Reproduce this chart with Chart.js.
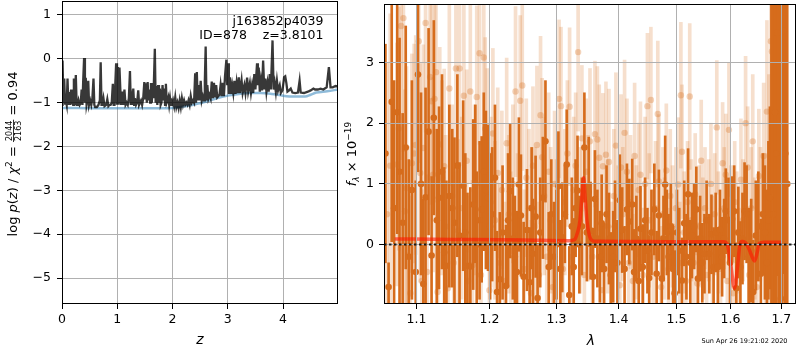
<!DOCTYPE html>
<html><head><meta charset="utf-8">
<script src="https://cdn.jsdelivr.net/npm/chart.js@4.4.0/dist/chart.umd.min.js"></script>
<style>
html,body{margin:0;padding:0;background:#fff;}
#wrap{position:relative;width:800px;height:350px;overflow:hidden;background:#fff;}
#c1box{position:absolute;left:0;top:0;width:340px;height:350px;}
#c2box{position:absolute;left:340px;top:0;width:460px;height:350px;}
</style></head><body>
<div id="wrap"><div id="c1box"><canvas id="c1"></canvas></div><div id="c2box"><canvas id="c2"></canvas></div></div>
<script>
// ---------- left panel: log p(z) ----------
const zTicks = [0,1,2,3,4];
const pTicks = [-5,-4,-3,-2,-1,0,1];
const zBlack = [
0.00,0.01,0.025,0.04,0.055,0.07,0.085,0.10,0.115,0.13,
0.145,0.165,0.18,0.20,0.215,0.23,0.25,0.265,0.285,0.30,
0.32,0.34,0.355,0.37,0.385,0.40,0.415,0.43,0.445,0.46,
0.475,0.49,0.51,0.53,0.55,0.57,0.585,0.60,0.63,0.66,
0.685,0.70,0.715,0.73,0.75,0.77,0.80,0.82,0.84,0.86,
0.88,0.90,0.92,0.935,0.95,0.965,0.98,0.995,1.01,1.025,
1.04,1.055,1.07,1.09,1.11,1.13,1.15,1.17,1.19,1.21,
1.23,1.245,1.26,1.275,1.29,1.305,1.32,1.34,1.36,1.38,
1.395,1.41,1.43,1.45,1.47,1.49,1.505,1.52,1.535,1.55,
1.565,1.58,1.595,1.61,1.625,1.64,1.655,1.68,1.695,1.71,
1.725,1.74,1.755,1.77,1.785,1.80,1.82,1.835,1.85,1.865,
1.88,1.895,1.91,1.925,1.94,1.955,1.97,1.99,2.01,2.03,
2.05,2.07,2.09,2.11,2.13,2.15,2.17,2.19,2.21,2.23,
2.25,2.27,2.29,2.31,2.33,2.35,2.37,2.39,2.41,2.425,
2.44,2.455,2.47,2.49,2.51,2.53,2.55,2.57,2.585,2.60,
2.615,2.63,2.65,2.67,2.69,2.71,2.73,2.75,2.77,2.79,
2.81,2.83,2.85,2.87,2.89,2.91,2.93,2.95,2.975,2.99,
3.005,3.02,3.04,3.06,3.08,3.10,3.12,3.14,3.16,3.18,
3.20,3.22,3.25,3.27,3.30,3.32,3.35,3.37,3.40,3.42,
3.44,3.46,3.48,3.50,3.53,3.545,3.56,3.58,3.60,3.62,
3.64,3.66,3.68,3.70,3.72,3.74,3.76,3.78,3.81,3.83,
3.85,3.87,3.89,3.91,3.94,3.96,3.99,4.02,4.04,4.06,
4.08,4.11,4.14,4.17,4.22,4.27,4.30,4.32,4.38,4.45,
4.50,4.55,4.58,4.63,4.68,4.73,4.79,4.83,4.86,4.90,
4.95,4.99];
const pBlack = [
-1.05,-0.04,-1.00,-0.45,-1.02,-0.95,-1.05,-0.45,-1.05,-0.76,
-1.05,-0.70,-1.00,-1.05,-0.45,-1.05,-0.37,-1.05,-1.05,-0.95,
-1.05,-1.00,-0.70,-1.05,-0.45,0.02,-1.00,-0.43,-1.05,-0.95,
-0.50,-1.05,-0.95,-1.05,-0.90,-0.45,-1.05,-1.10,-1.10,-1.05,
-0.95,-0.08,-1.05,-1.05,-0.90,-1.08,-1.05,-0.92,-1.08,-1.05,
-1.05,-1.00,-0.57,-1.05,-1.05,-0.55,-0.10,-1.05,-0.19,-1.05,
-0.20,-0.68,-1.05,-0.75,-1.05,-0.70,-1.05,-1.00,-1.05,-0.90,
-0.28,-1.05,-0.90,-1.05,-0.68,-1.05,-0.90,-1.05,-1.00,-0.72,
-1.05,-1.05,-0.95,-1.05,-0.90,-0.53,-0.90,-0.56,-1.00,-0.53,
-0.95,-0.70,-1.00,-0.55,-1.00,-0.55,-0.90,0.23,-1.00,-0.62,
-1.05,-0.60,-1.00,-0.68,-1.05,-1.00,-0.60,-0.95,-0.68,-1.05,
-0.57,-1.00,-0.95,-0.88,-1.05,-0.90,-1.05,-1.05,-0.95,-1.08,
-0.88,-1.10,-1.00,-1.12,-0.95,-1.10,-0.90,-1.05,-0.95,-1.05,
-1.00,-1.05,-0.95,-1.05,-0.85,-1.00,-0.95,-1.00,-0.33,-1.00,
-0.30,-0.95,-0.60,-0.95,-0.50,-0.95,-0.85,-0.95,-0.50,0.28,
-0.95,-0.60,-0.90,-0.82,-0.90,-0.52,-0.90,-0.55,-0.88,-0.60,
-0.88,-0.85,-0.82,-0.60,-0.85,-0.55,-0.85,-0.40,-0.02,-0.60,
-0.10,-0.80,-0.42,-0.80,-0.60,-0.78,-0.50,-0.80,-0.55,-0.78,
-0.42,-0.78,-0.49,-0.78,-0.60,-0.78,-0.43,-0.75,-0.55,-0.78,
-0.60,-0.78,-0.35,-0.70,-0.10,-0.60,-0.20,-0.75,-0.50,-0.72,
-0.04,-0.70,-0.45,-0.75,-0.55,-0.75,-0.35,-0.70,0.42,-0.70,
-0.55,-0.75,-0.50,-0.72,-0.60,-0.78,-0.72,-0.42,-0.40,-0.55,
-0.75,-0.72,-0.68,-0.77,-0.78,-0.77,-0.50,-0.77,-0.78,-0.75,
-0.72,-0.68,-0.70,-0.70,-0.68,-0.70,-0.65,-0.19,-0.65,-0.65,
-0.62,-0.63];
const zBlue = [0,0.3,0.6,1.0,1.5,2.0,2.2,2.4,2.6,2.8,3.0,3.2,3.4,3.6,3.8,4.0,4.2,4.4,4.5,4.6,4.8,4.99];
const pBlue = [-1.12,-1.12,-1.13,-1.13,-1.13,-1.12,-1.09,-1.04,-0.98,-0.90,-0.84,-0.80,-0.78,-0.78,-0.80,-0.84,-0.86,-0.86,-0.82,-0.77,-0.74,-0.70];

// ---------- right panel: spectrum ----------
const lamTicks = [1.1,1.2,1.3,1.4,1.5,1.6,1.7];
const fluxTicks = [0,1,2,3];
const dW = [
1.060,1.064,1.068,1.071,1.075,1.078,1.082,1.086,1.090,1.094,
1.099,1.102,1.106,1.109,1.112,1.116,1.120,1.123,1.127,1.130,
1.134,1.137,1.140,1.144,1.148,1.151,1.155,1.158,1.163,1.166,
1.169,1.173,1.177,1.180,1.182,1.186,1.189,1.192,1.195,1.198,
1.201,1.204,1.208,1.211,1.215,1.219,1.224,1.227,1.230,1.234,
1.237,1.240,1.243,1.246,1.250,1.255,1.259,1.262,1.264,1.268,
1.271,1.275,1.279,1.283,1.288,1.292,1.296,1.300,1.303,1.306,
1.309,1.313,1.316,1.320,1.324,1.327,1.330,1.333,1.336,1.340,
1.344,1.348,1.351,1.354,1.358,1.361,1.365,1.369,1.372,1.376,
1.380,1.384,1.387,1.391,1.394,1.398,1.402,1.406,1.410,1.414,
1.418,1.423,1.426,1.430,1.434,1.437,1.441,1.445,1.449,1.452,
1.456,1.461,1.465,1.469,1.474,1.477,1.480,1.483,1.486,1.490,
1.494,1.497,1.501,1.505,1.510,1.514,1.518,1.521,1.525,1.528,
1.532,1.536,1.539,1.543,1.547,1.551,1.555,1.560,1.564,1.568,
1.572,1.576,1.580,1.584,1.588,1.591,1.596,1.599,1.603,1.607,
1.611,1.615,1.619,1.623,1.627,1.631,1.635,1.640,1.644,1.649,
1.654,1.659,1.663,1.667,1.671,1.674,1.677,1.680,1.684,1.687,
1.690,1.692,1.695,1.699,1.702,1.705,1.708,1.712];
const dF = [
1.50,-0.70,2.35,0.60,2.18,1.20,0.36,1.60,-0.20,0.90,
-0.45,2.80,1.00,-0.65,0.78,1.86,-0.18,2.09,0.40,0.77,
1.20,-0.13,-0.35,0.80,0.60,0.36,1.30,0.15,0.97,0.20,
-0.35,-0.36,0.66,1.00,0.00,0.40,0.58,1.20,0.90,0.77,
0.30,0.50,1.10,-0.78,-0.57,0.20,-0.68,0.40,0.88,0.10,
-0.20,-0.45,0.99,0.48,-0.53,0.24,-0.62,0.60,-0.15,0.46,
-0.88,0.20,0.77,1.70,-0.37,0.50,-0.20,0.00,0.96,-0.40,
0.12,0.50,1.32,-0.83,0.30,-0.37,0.60,0.89,0.00,0.30,
1.60,0.20,0.87,0.23,-0.53,0.75,0.10,-0.20,0.35,-0.40,
0.50,0.10,-0.50,-0.20,0.30,-0.30,0.73,0.24,-0.40,0.58,
0.38,0.66,-0.45,0.10,-0.60,0.26,-0.37,0.40,-0.10,-0.55,
0.20,0.58,-0.48,0.48,-0.56,0.10,0.99,0.20,-0.20,0.30,
-0.40,-0.80,0.20,-0.10,-0.59,0.35,-0.20,0.83,-0.30,0.15,
0.30,0.58,-0.56,0.10,-0.30,-0.15,0.40,-0.15,0.17,-0.37,
0.20,-0.37,0.25,-0.20,0.10,0.55,0.40,-0.30,0.42,0.55,
-0.72,0.20,-0.37,0.10,0.55,0.50,-0.20,-0.10,-0.78,0.15,
0.30,-0.48,0.50,0.20,-0.30,0.40,0.77,1.00,0.50,2.18,
1.50,3.49,1.00,-0.89,2.00,3.52,1.50,1.00];
const dE = [
1.80,0.40,2.30,2.10,2.00,2.20,1.80,2.00,1.60,1.80,
1.50,1.60,1.50,1.40,1.80,1.70,1.30,1.60,1.50,1.50,
1.60,1.40,1.40,1.50,1.30,1.40,1.50,1.20,1.40,1.30,
1.20,1.30,1.40,1.30,1.20,1.30,1.20,1.30,1.30,1.20,
1.20,1.10,1.20,1.00,1.10,1.10,1.00,1.10,1.10,1.00,
1.00,1.00,1.10,1.00,0.90,1.00,0.90,1.00,0.90,1.00,
0.90,0.90,1.00,1.00,0.90,0.90,0.90,0.90,0.90,0.80,
0.90,0.80,0.90,0.80,0.80,0.80,0.80,0.90,0.80,0.80,
0.90,0.80,0.90,0.80,0.80,0.80,0.80,0.75,0.80,0.75,
0.80,0.75,0.70,0.75,0.75,0.70,0.75,0.70,0.70,0.75,
0.70,0.75,0.70,0.70,0.70,0.70,0.70,0.70,0.70,0.70,
0.70,0.75,0.70,0.75,0.70,0.70,0.80,0.70,0.70,0.70,
0.70,0.70,0.70,0.70,0.70,0.70,0.70,0.75,0.70,0.70,
0.70,0.70,0.70,0.70,0.65,0.65,0.65,0.65,0.65,0.65,
0.65,0.65,0.65,0.65,0.65,0.70,0.70,0.70,0.70,0.75,
0.75,0.75,0.75,0.75,0.80,0.80,0.80,0.85,0.85,0.90,
0.90,0.90,1.00,1.10,1.20,1.30,1.50,3.00,4.00,4.00,
4.00,4.00,4.00,5.00,4.00,4.00,4.00,4.00];
const lW = [
1.062,1.066,1.0747,1.077,1.080,1.083,1.085,1.087,1.089,1.092,
1.094,1.097,1.099,1.103,1.105,1.107,1.109,1.112,1.114,1.118,
1.120,1.122,1.124,1.126,1.128,1.131,1.134,1.137,1.139,1.142,
1.144,1.148,1.150,1.153,1.156,1.158,1.161,1.164,1.168,1.170,
1.173,1.176,1.179,1.182,1.186,1.188,1.192,1.194,1.197,1.200,
1.202,1.205,1.208,1.212,1.215,1.218,1.222,1.225,1.228,1.231,
1.234,1.238,1.241,1.245,1.248,1.251,1.254,1.258,1.261,1.264,
1.267,1.270,1.273,1.2755,1.278,1.281,1.285,1.288,1.291,1.294,
1.297,1.300,1.304,1.307,1.310,1.313,1.317,1.3205,1.324,1.327,
1.330,1.334,1.337,1.340,1.344,1.347,1.350,1.353,1.357,1.361,
1.365,1.368,1.372,1.374,1.379,1.382,1.384,1.388,1.392,1.3955,
1.399,1.402,1.404,1.407,1.410,1.414,1.417,1.420,1.424,1.427,
1.430,1.434,1.437,1.441,1.445,1.449,1.452,1.455,1.459,1.463,
1.467,1.469,1.473,1.476,1.479,1.482,1.486,1.489,1.493,1.496,
1.499,1.503,1.506,1.508,1.510,1.514,1.517,1.520,1.524,1.527,
1.531,1.534,1.538,1.541,1.545,1.548,1.552,1.555,1.559,1.563,
1.566,1.570,1.574,1.577,1.581,1.585,1.588,1.591,1.594,1.597,
1.601,1.605,1.608,1.612,1.616,1.620,1.624,1.629,1.633,1.636,
1.640,1.643,1.647,1.651,1.655,1.658,1.6645,1.668,1.671,1.675,
1.679,1.681,1.685,1.690,1.694,1.698,1.702,1.706];
const lF = [
0.50,1.30,1.32,1.91,3.60,3.73,0.55,0.93,-0.18,-0.80,
1.34,1.50,1.64,3.35,1.18,-0.60,1.59,3.65,-0.45,2.76,
2.36,1.15,2.40,2.84,-0.78,1.65,1.10,1.29,0.30,-0.72,
2.57,0.80,-0.30,2.90,0.23,2.90,0.60,2.45,1.38,-0.60,
2.52,-0.34,0.90,2.43,3.15,-0.50,3.08,1.91,1.50,-0.75,
0.70,1.83,0.40,1.18,-0.30,0.90,-0.60,1.67,0.50,-0.10,
1.00,2.52,0.20,2.37,2.62,-0.40,1.10,0.60,-0.80,1.30,
0.30,1.64,-0.50,2.13,1.44,0.80,-0.20,1.20,0.40,-0.70,
1.00,0.20,2.40,2.28,-0.40,0.70,1.50,2.27,-0.20,0.90,
1.30,3.17,0.40,1.75,-0.50,1.20,0.60,1.70,-0.20,1.82,
1.73,1.43,-0.75,1.29,1.48,0.30,1.36,-0.40,0.80,1.63,
0.20,-0.67,1.27,0.50,1.84,1.20,-0.30,0.70,-0.60,1.46,
0.20,0.90,1.15,-0.50,1.00,2.28,0.40,2.38,-0.20,0.60,
2.15,1.04,-0.70,0.50,0.10,1.22,-0.40,0.80,0.30,-0.80,
0.60,0.99,-0.30,2.46,1.53,0.20,-0.60,0.70,2.44,0.40,
-0.30,0.83,-0.64,0.30,1.38,0.10,0.60,-0.50,0.40,1.00,
-0.20,0.50,1.93,0.20,-0.40,1.34,0.60,1.15,-0.60,1.89,
0.30,-0.80,0.70,0.20,-0.40,1.07,0.40,2.00,1.27,-0.50,
0.60,1.70,0.10,-0.70,1.13,0.50,1.46,0.20,2.19,0.80,
3.35,3.18,1.00,3.79,0.50,2.00,1.00,1.80];
const lE = [
2.50,2.50,2.00,2.00,2.20,2.20,2.00,2.00,1.80,1.60,
1.80,1.80,1.80,2.00,1.80,1.50,1.70,1.80,1.60,1.70,
1.70,1.60,1.70,1.70,1.50,1.60,1.60,1.60,1.50,1.50,
1.60,1.50,1.50,1.60,1.50,1.60,1.50,1.50,1.50,1.40,
1.50,1.40,1.40,1.50,1.50,1.40,1.50,1.50,1.40,1.30,
1.40,1.40,1.30,1.40,1.30,1.30,1.30,1.40,1.30,1.30,
1.30,1.40,1.30,1.40,1.40,1.30,1.30,1.30,1.20,1.30,
1.30,1.30,1.20,1.30,1.30,1.30,1.20,1.30,1.20,1.20,
1.20,1.20,1.30,1.30,1.20,1.20,1.20,1.30,1.20,1.20,
1.20,1.30,1.20,1.20,1.20,1.20,1.20,1.20,1.20,1.20,
1.20,1.20,1.10,1.20,1.20,1.10,1.20,1.10,1.10,1.20,
1.10,1.10,1.20,1.10,1.20,1.20,1.10,1.10,1.10,1.20,
1.10,1.10,1.20,1.10,1.10,1.20,1.10,1.20,1.10,1.10,
1.20,1.10,1.00,1.10,1.00,1.10,1.00,1.10,1.00,1.00,
1.00,1.10,1.00,1.20,1.10,1.00,1.00,1.00,1.20,1.00,
1.00,1.00,1.00,1.00,1.00,1.00,1.00,1.00,1.00,1.00,
1.00,1.00,1.10,1.00,1.00,1.00,1.00,1.00,1.00,1.10,
1.00,1.00,1.00,1.00,1.00,1.00,1.00,1.10,1.00,1.00,
1.00,1.10,1.00,1.00,1.10,1.10,1.20,1.30,1.50,2.00,
2.50,2.50,3.00,3.00,3.50,3.50,3.50,3.50];
const mW = [1.072,1.150,1.250,1.320,1.328,1.333,1.337,1.340,1.3427,1.345,1.348,1.352,1.356,1.362,1.370,1.450,1.550,1.587,1.594,1.600,1.6076,1.613,1.618,1.622,1.628,1.636,1.6465,1.652,1.656,1.665,1.700];
const mF = [0.093,0.085,0.075,0.065,0.08,0.20,0.40,0.80,1.10,0.80,0.40,0.15,0.07,0.055,0.055,0.05,0.045,0.045,0.00,-0.30,-0.72,-0.40,0.00,0.05,0.04,-0.08,-0.27,-0.12,0.02,0.04,0.04];
const zeroW = [1.0582,1.730];
const zeroF = [0,0];

// ---------- helpers ----------
const FAM = '"DejaVu Sans", sans-serif';
Chart.defaults.font.family = FAM;
Chart.defaults.color = '#000';
const DARK = 'rgb(214,108,28)';
const LIGHTBAR = 'rgba(214,108,28,0.22)';
const LIGHTPT = 'rgba(214,108,28,0.30)';
function pts(xs, ys){ return xs.map((x,i)=>({x:x, y:ys[i]})); }
function rng(ws, fs, es){ return ws.map((w,i)=>({x:w, y:[fs[i]-es[i], fs[i]+es[i]]})); }
function fmtInt(v){ return v < 0 ? '\u2212' + Math.abs(v) : String(v); }
function setTicks(arr){ return s => { s.ticks = arr.map(v => ({value:v})); }; }
const gridCfg = (z) => ({color:'#b0b0b0', lineWidth:1, tickColor:'#000', tickLength:5, z:z});

function drawRich(ctx, parts, cx, cy, rot){
  ctx.save(); ctx.translate(cx, cy); ctx.rotate(rot);
  let total = 0;
  parts.forEach(p => { ctx.font = p.font;
    p.w = p.frac ? Math.max(ctx.measureText(p.num).width, ctx.measureText(p.den).width) + 2 : ctx.measureText(p.t).width;
    total += p.w; });
  let x = -total/2;
  ctx.fillStyle = '#000'; ctx.textBaseline = 'alphabetic';
  parts.forEach(p => { ctx.font = p.font;
    if (p.frac){
      ctx.textAlign = 'center';
      ctx.fillText(p.num, x + p.w/2, p.numY);
      ctx.fillText(p.den, x + p.w/2, p.denY);
      ctx.fillRect(x, p.lineY, p.w, 0.8);
    } else { ctx.textAlign = 'left'; ctx.fillText(p.t, x, p.dy || 0); }
    x += p.w; });
  ctx.restore();
}
function frame(chart){
  const {ctx, chartArea:a} = chart;
  ctx.save(); ctx.strokeStyle = '#000'; ctx.lineWidth = 1;
  ctx.strokeRect(a.left + 0.5, a.top + 0.5, a.right - a.left - 1, a.bottom - a.top - 1);
  ctx.restore();
}
const N = '13px ' + FAM, I = 'italic 13px ' + FAM;

const leftPlugin = { id:'leftDeco', afterDraw(chart){
  frame(chart);
  const ctx = chart.ctx;
  ctx.save(); ctx.fillStyle = '#000'; ctx.textAlign = 'right'; ctx.textBaseline = 'alphabetic';
  ctx.font = '12.5px ' + FAM;
  ctx.fillText('j163852p4039', 323.5, 25);
  ctx.fillText('ID=878    z=3.8101', 323.5, 38.5);
  ctx.textAlign = 'center'; ctx.font = 'italic 14px ' + FAM;
  ctx.fillText('z', 200, 344);
  ctx.restore();
  drawRich(ctx, [
    {t:'log ', font:N}, {t:'p', font:I}, {t:'(', font:N}, {t:'z', font:I}, {t:') / ', font:N},
    {t:'\u03c7', font:I}, {t:'2', font:'9px ' + FAM, dy:-5.5}, {t:' = ', font:N},
    {frac:true, num:'2044', den:'2163', font:'8px ' + FAM, numY:-4.8, denY:3.6, lineY:-3.9},
    {t:' = 0.94', font:N}
  ], 17, 154, -Math.PI/2);
}};
// zero reference line (dotted) drawn above the grid, positioned through the chart's scales
const rightPlugin = { id:'rightDeco', afterDraw(chart){
  const ctx = chart.ctx, xs = chart.scales.x, ys = chart.scales.y, a = chart.chartArea;
  ctx.save();
  ctx.beginPath(); ctx.rect(a.left, a.top, a.right - a.left, a.bottom - a.top); ctx.clip();
  ctx.strokeStyle = 'rgba(0,0,0,0.85)'; ctx.lineWidth = 2; ctx.setLineDash([2.5,2.5]);
  ctx.beginPath();
  zeroW.forEach((w,i) => { const px = xs.getPixelForValue(w), py = ys.getPixelForValue(zeroF[i]);
    if (i === 0) ctx.moveTo(px, py); else ctx.lineTo(px, py); });
  ctx.stroke();
  ctx.restore();
  frame(chart);
  ctx.save(); ctx.fillStyle = '#000'; ctx.textBaseline = 'alphabetic';
  ctx.textAlign = 'center'; ctx.font = 'italic 14px ' + FAM;
  ctx.fillText('\u03bb', 251, 345);
  ctx.textAlign = 'right'; ctx.font = '6.5px ' + FAM;
  ctx.fillText('Sun Apr 26 19:21:02 2020', 447.5, 342.5);
  ctx.restore();
  drawRich(ctx, [
    {t:'f', font:I}, {t:'\u03bb', font:'italic 9px ' + FAM, dy:3}, {t:' \u00d7 10', font:N},
    {t:'\u221219', font:'9px ' + FAM, dy:-5.5}
  ], 16, 154, -Math.PI/2);
}};

const common = {responsive:true, maintainAspectRatio:false, animation:false, devicePixelRatio:1, events:[],
  plugins:{legend:{display:false}, tooltip:{enabled:false}}};

new Chart(document.getElementById('c1'), {
  type:'line',
  data:{datasets:[
    {data:pts(zBlack,pBlack), borderColor:'rgba(0,0,0,0.78)', borderWidth:2.3, pointRadius:0, tension:0},
    {data:pts(zBlue,pBlue), borderColor:'rgba(31,119,180,0.5)', borderWidth:2.5, pointRadius:0, cubicInterpolationMode:'monotone'}
  ]},
  options:Object.assign({}, common, {
    layout:{padding:{left:0, right:2, top:1, bottom:0}},
    scales:{
      x:{type:'linear', min:0, max:4.995, offset:false, afterBuildTicks:setTicks(zTicks),
         afterFit:s=>{s.height=46; s.paddingLeft=0; s.paddingRight=0;},
         ticks:{font:{size:12.5}, padding:3, maxRotation:0, autoSkip:false, callback:v=>fmtInt(v)},
         grid:gridCfg(0), border:{display:false}},
      y:{type:'linear', min:-5.593, max:1.319, afterBuildTicks:setTicks(pTicks),
         afterFit:s=>{s.width=62; s.paddingTop=0; s.paddingBottom=0;},
         ticks:{font:{size:12.5}, padding:6, autoSkip:false, callback:v=>fmtInt(v)},
         grid:gridCfg(0), border:{display:false}}
    }
  }),
  plugins:[leftPlugin]
});

new Chart(document.getElementById('c2'), {
  type:'line',
  data:{datasets:[
    {data:pts(mW,mF), borderColor:'rgba(255,20,0,0.6)', borderWidth:3.5, pointRadius:0, cubicInterpolationMode:'monotone'},
    {data:pts(dW,dF), showLine:false, pointRadius:3.3, pointBackgroundColor:DARK, pointBorderWidth:0},
    {type:'bar', data:rng(dW,dF,dE), backgroundColor:DARK, barThickness:2, grouped:false, borderWidth:0, borderSkipped:false},
    {data:pts(lW,lF), showLine:false, pointRadius:3.2, pointBackgroundColor:LIGHTPT, pointBorderWidth:0},
    {type:'bar', data:rng(lW,lF,lE), backgroundColor:LIGHTBAR, barThickness:3, grouped:false, borderWidth:0, borderSkipped:false}
  ]},
  options:Object.assign({}, common, {
    layout:{padding:{left:0, right:1, top:1, bottom:0}},
    scales:{
      x:{type:'logarithmic', min:1.0582, max:1.730, offset:false, afterBuildTicks:setTicks(lamTicks),
         afterFit:s=>{s.height=46; s.paddingLeft=0; s.paddingRight=0;},
         ticks:{font:{size:12.5}, padding:3, maxRotation:0, autoSkip:false, callback:v=>Number(v).toFixed(1)},
         grid:Object.assign(gridCfg(1), {offset:false}), border:{display:false}},
      y:{type:'linear', min:-0.978, max:3.962, afterBuildTicks:setTicks(fluxTicks),
         afterFit:s=>{s.width=44; s.paddingTop=0; s.paddingBottom=0;},
         ticks:{font:{size:12.5}, padding:5, autoSkip:false, callback:v=>fmtInt(v)},
         grid:gridCfg(1), border:{display:false}}
    }
  }),
  plugins:[rightPlugin]
});
</script>
</body></html>
